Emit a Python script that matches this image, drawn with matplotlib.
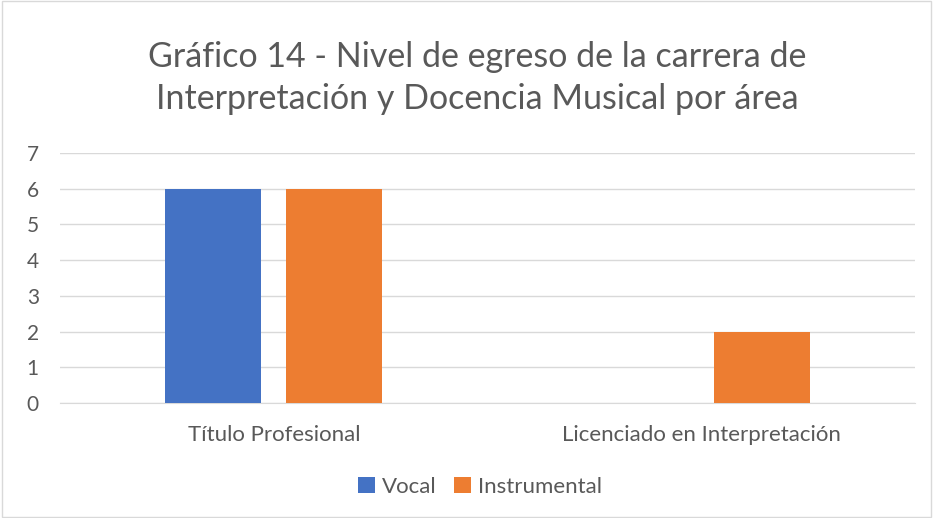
import matplotlib.pyplot as plt
import numpy as np

plt.rcParams['font.family'] = ['Lato', 'DejaVu Sans']

categories = ["Título Profesional", "Licenciado en Interpretación"]
vocal = [6, 0]
instrumental = [6, 2]
title = "Gráfico 14 - Nivel de egreso de la carrera de\nInterpretación y Docencia Musical por área"

grey = "#595959"
fig = plt.figure(figsize=(9.33, 5.18), dpi=100)
ax = fig.add_axes([60 / 933, 1 - 403 / 518, 855 / 933, 250 / 518])

x = np.arange(len(categories))
w = 0.2246
ax.bar(x - 0.1415, vocal, w, color="#4472C4", label="Vocal", zorder=3)
ax.bar(x + 0.1415, instrumental, w, color="#ED7D31", label="Instrumental", zorder=3)

ax.set_xlim(-0.5, 1.5)
ax.set_ylim(0, 7)
ax.set_yticks(range(8))
ax.set_xticks(x)
ax.set_xticklabels(categories)
ax.grid(axis="y", color="#D9D9D9", linewidth=1, zorder=0)
for s in ["top", "right", "left"]:
    ax.spines[s].set_visible(False)
ax.spines["bottom"].set_color("#D9D9D9")
ax.tick_params(length=0, colors=grey)
ax.tick_params(axis="y", pad=24, labelsize=15)
ax.tick_params(axis="x", pad=16, labelsize=16)
for lbl in ax.get_yticklabels():
    lbl.set_horizontalalignment("left")

fig.text(477 / 933, 1 - 78 / 518, title, ha="center", va="center",
         fontsize=24.5, color=grey, linespacing=1.4)

fig.legend(loc="center", bbox_to_anchor=(480 / 933, 1 - 487 / 518), ncol=2,
           frameon=False, fontsize=16, labelcolor=grey, handlelength=0.75,
           handleheight=0.75, handletextpad=0.3, columnspacing=0.8)

fig.patches.append(plt.Rectangle((0.002, 0.002), 0.996, 0.996, transform=fig.transFigure,
                                 fill=False, edgecolor="#D9D9D9", linewidth=1))

fig.savefig("out.png", dpi=100)
